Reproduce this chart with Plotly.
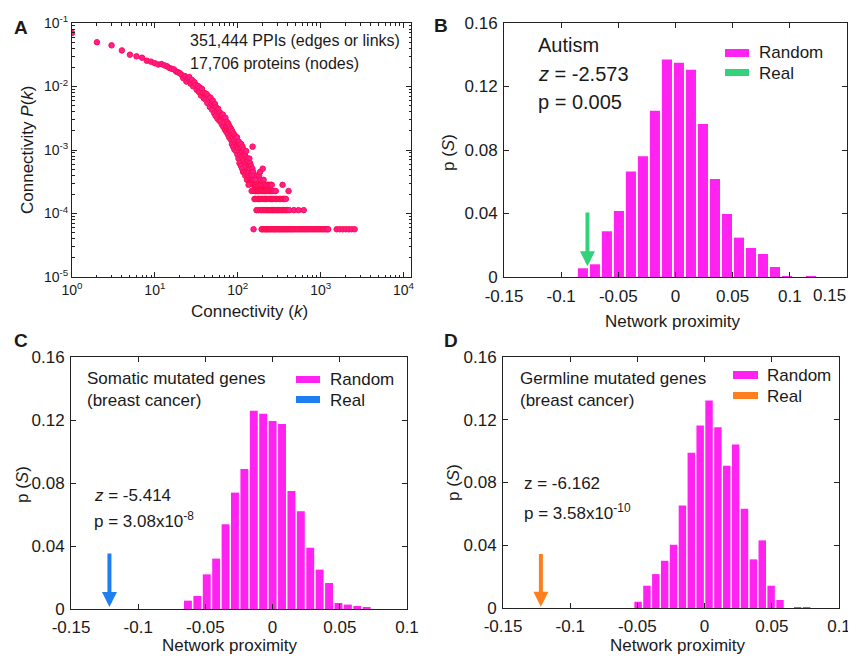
import plotly.graph_objects as go

# The page places the plot 8 px from the top-left corner (default body margin),
# so the figure is 8 px smaller and all reference pixel positions are shifted by 8.
VW, VH = 856, 656
OFF = 8
FW, FH = VW - OFF, VH - OFF
FONT = "Liberation Sans, Arial, Helvetica, sans-serif"
TXT = "#1a1a1a"
AXC = "#222222"
MAGENTA = "#ff22f0"

# ---------------- Panel A data (degree k, number of proteins with degree k) ----------------
N_PROTEINS = 17706
core_degree = list(range(1, 161))
core_count = [
    1234, 880, 788, 655, 561, 528, 503, 451, 436, 411,
    393, 400, 381, 368, 347, 336, 329, 305, 297, 287,
    270, 240, 258, 212, 236, 249, 196, 224, 178, 207,
    189, 157, 181, 145, 170, 128, 162, 141, 115, 139,
    110, 135, 97, 124, 112, 84, 118, 95, 76, 106,
    88, 67, 94, 61, 83, 73, 55, 79, 63, 51,
    69, 50, 63, 45, 59, 64, 41, 56, 48, 37,
    57, 41, 34, 49, 40, 31, 46, 37, 28, 41,
    35, 26, 38, 30, 22, 35, 28, 20, 32, 25,
    18, 30, 23, 27, 17, 25, 20, 28, 15, 23,
    19, 13, 24, 17, 11, 21, 15, 19, 10, 22,
    14, 17, 9, 20, 13, 8, 18, 12, 16, 8,
    15, 11, 7, 14, 10, 17, 8, 13, 6, 12,
    11, 7, 12, 8, 5, 10, 7, 13, 6, 9,
    11, 6, 7, 10, 6, 8, 4, 7, 6, 9,
    20, 6, 8, 5, 1, 7, 4, 6, 3, 5,
]
tail_deg_count5 = [161, 166, 171, 176, 182, 188, 193, 199, 206, 213, 220, 228, 236, 244, 251, 257, 347]
tail_deg_count4 = [163, 169, 174, 179, 185, 191, 197, 203, 210, 217, 224, 232, 240, 248, 256, 265, 275, 287, 410]
tail_deg_count3 = [164, 172, 178, 184, 190, 196, 202, 209, 216, 223, 231, 239, 247, 255, 264, 273, 283,
                   294, 305, 317, 330, 343, 356, 368, 380]
tail_deg_count2 = [168, 177, 187, 195, 204, 212, 221, 230, 238, 246, 254, 263, 271, 280, 290, 300, 311,
                   322, 334, 346, 359, 372, 386, 400, 420, 475, 540, 625]
tail_deg_count1 = [194, 198, 207, 214, 219, 226, 234, 242, 250, 259, 268, 277, 286, 296, 307, 318, 328,
                   340, 352, 365, 378, 392, 405, 422, 436, 452, 470, 490, 512, 535, 560, 585, 610, 635,
                   660, 690, 720, 750, 785, 820, 855, 895, 935, 975, 1020, 1065, 1110, 1160, 1210, 1230,
                   1560, 1695, 1842, 2001, 2174, 2362, 2570]
extra_degree = [165, 170, 181, 186, 189, 200, 205]
extra_count = [6, 7, 7, 8, 6, 9, 6]

deg_all = list(core_degree) + list(extra_degree)
cnt_all = list(core_count) + list(extra_count)
for c, lst in [(5, tail_deg_count5), (4, tail_deg_count4), (3, tail_deg_count3),
               (2, tail_deg_count2), (1, tail_deg_count1)]:
    deg_all += lst
    cnt_all += [c] * len(lst)
pk_all = [c / N_PROTEINS for c in cnt_all]

# ---------------- Panels B-D: histograms of random network proximity ----------------
autism_bins = [-0.081, -0.0705, -0.060, -0.0495, -0.039, -0.0285, -0.018, -0.0075, 0.003, 0.0135,
               0.024, 0.0345, 0.045, 0.0555, 0.066, 0.0765, 0.087, 0.0975, 0.108, 0.1185]
autism_p = [0.0055, 0.008, 0.0288, 0.0416, 0.0664, 0.076, 0.1048, 0.137, 0.135, 0.1306,
            0.0964, 0.0617, 0.0397, 0.0248, 0.0183, 0.0145, 0.0063, 0.0004, 0.0, 0.0005]
autism_real = -0.077

somatic_bins = [-0.063, -0.056, -0.049, -0.042, -0.035, -0.028, -0.021, -0.014, -0.007, 0.0,
                0.007, 0.014, 0.021, 0.028, 0.035, 0.042, 0.049, 0.056, 0.063, 0.070]
somatic_p = [0.0053, 0.0083, 0.022, 0.032, 0.0538, 0.0739, 0.0889, 0.1259, 0.124, 0.1194,
             0.1175, 0.0749, 0.062, 0.0389, 0.025, 0.0165, 0.0038, 0.0028, 0.0019, 0.001]
somatic_real = -0.1214

germline_bins = [-0.0495, -0.0429, -0.0363, -0.0297, -0.0231, -0.0165, -0.0099, -0.0033, 0.0033, 0.0099,
                 0.0165, 0.0231, 0.0297, 0.0363, 0.0429, 0.0495, 0.0561, 0.0627, 0.0693, 0.0759]
germline_p = [0.004, 0.0142, 0.0216, 0.0301, 0.0403, 0.0654, 0.0989, 0.1163, 0.1322, 0.1152,
              0.0906, 0.1042, 0.0632, 0.031, 0.0431, 0.0142, 0.0051, 0.0, 0.0005, 0.0005]
germline_real = -0.1218

prox_ticks = [-0.15, -0.1, -0.05, 0, 0.05, 0.1]
prox_ticktext = ["-0.15", "-0.1", "-0.05", "0", "0.05", "0.1"]
ps_ticks = [0, 0.04, 0.08, 0.12, 0.16]
ps_ticktext = ["0", "0.04", "0.08", "0.12", "0.16"]

# ---------------- figure ----------------
fig = go.Figure()

fig.add_trace(go.Scatter(
    x=deg_all, y=pk_all, mode="markers", xaxis="x", yaxis="y",
    marker=dict(size=5.5, color="#ff1f90", line=dict(color="#ff0d4d", width=1)),
    showlegend=False))

for xa, ya, bins, vals in [("x2", "y2", autism_bins, autism_p),
                           ("x3", "y3", somatic_bins, somatic_p),
                           ("x4", "y4", germline_bins, germline_p)]:
    fig.add_trace(go.Bar(x=bins, y=vals, xaxis=xa, yaxis=ya, marker=dict(color=MAGENTA, line=dict(width=0)),
                         showlegend=False))


def px2paper(px, py):
    return (px - OFF) / FW, 1 - (py - OFF) / FH


def dom_x(a, b):
    return [(a - OFF) / FW, (b - OFF) / FW]


def dom_y(top, bottom):
    return [1 - (bottom - OFF) / FH, 1 - (top - OFF) / FH]


def common_axis(**kw):
    d = dict(showline=True, linecolor=AXC, linewidth=1, mirror="ticks", ticks="inside",
             ticklen=5, tickcolor=AXC, showgrid=False, zeroline=False, automargin=False,
             tickfont=dict(family=FONT, size=17, color=TXT))
    d.update(kw)
    return d


minor_log_x = [m * 10 ** e for e in range(0, 4) for m in range(2, 10)]
minor_log_y = [m * 10.0 ** e for e in range(-5, -1) for m in range(2, 10)]

layout = dict(
    width=FW, height=FH, margin=dict(l=0, r=0, t=0, b=0, autoexpand=False),
    paper_bgcolor="white", plot_bgcolor="white", bargap=0.16,
    xaxis=common_axis(domain=dom_x(72, 411), anchor="y", type="log", range=[0, 4.09],
                      tickvals=[1, 10, 100, 1000, 10000],
                      ticktext=["10<sup>0</sup>", "10<sup>1</sup>", "10<sup>2</sup>", "10<sup>3</sup>", "10<sup>4</sup>"],
                      tickfont=dict(family=FONT, size=14, color=TXT),
                      minor=dict(tickvals=minor_log_x, ticks="inside", ticklen=2.5, tickcolor=AXC, showgrid=False)),
    yaxis=common_axis(domain=dom_y(23, 277), anchor="x", type="log", range=[-5, -1],
                      tickvals=[1e-5, 1e-4, 1e-3, 1e-2, 1e-1],
                      ticktext=["10<sup>-5</sup>", "10<sup>-4</sup>", "10<sup>-3</sup>", "10<sup>-2</sup>", "10<sup>-1</sup>"],
                      tickfont=dict(family=FONT, size=14, color=TXT),
                      minor=dict(tickvals=minor_log_y, ticks="inside", ticklen=2.5, tickcolor=AXC, showgrid=False)),
    xaxis2=common_axis(domain=dom_x(504, 847), anchor="y2", range=[-0.15, 0.15],
                       tickvals=prox_ticks, ticktext=prox_ticktext, ticklabelstandoff=4),
    yaxis2=common_axis(domain=dom_y(23, 277), anchor="x2", range=[0, 0.16],
                       tickvals=ps_ticks, ticktext=ps_ticktext, ticklabelstandoff=2),
    xaxis3=common_axis(domain=dom_x(71, 407), anchor="y3", range=[-0.15, 0.1],
                       tickvals=prox_ticks, ticktext=prox_ticktext, ticklabelstandoff=3),
    yaxis3=common_axis(domain=dom_y(357, 609), anchor="x3", range=[0, 0.16],
                       tickvals=ps_ticks, ticktext=ps_ticktext, ticklabelstandoff=2),
    xaxis4=common_axis(domain=dom_x(503, 839), anchor="y4", range=[-0.15, 0.1],
                       tickvals=prox_ticks, ticktext=prox_ticktext, ticklabelstandoff=3),
    yaxis4=common_axis(domain=dom_y(357, 608), anchor="x4", range=[0, 0.16],
                       tickvals=ps_ticks, ticktext=ps_ticktext, ticklabelstandoff=2),
)
fig.update_layout(**layout)

annotations = []


def ann(text, px, py, size, xanchor="left", angle=0):
    x, y = px2paper(px, py)
    annotations.append(dict(text=text, x=x, y=y, xref="paper", yref="paper", xanchor=xanchor,
                            yanchor="middle", showarrow=False, textangle=angle,
                            font=dict(family=FONT, size=size, color=TXT)))


# panel letters
for letter, px, py in [("A", 21, 27), ("B", 441, 25), ("C", 21, 340), ("D", 451, 340)]:
    ann("<b>%s</b>" % letter, px, py, 19, xanchor="center")

# panel A
ann("351,444 PPIs (edges or links)", 188, 40, 16)
ann("17,706 proteins (nodes)", 188, 63, 16)
ann("Connectivity (<i>k</i>)", 249, 311, 17, xanchor="center")
ann("Connectivity <i>P</i>(<i>k</i>)", 28, 150, 17, xanchor="center", angle=-90)

# panel B
ann("Autism", 536, 45, 20)
ann("<i>z</i> = -2.573", 536, 74, 20)
ann("p = 0.005", 536, 102, 20)
ann("Random", 757, 53, 17)
ann("Real", 757, 73, 17)
ann("Network proximity", 673, 322, 17, xanchor="center")
ann("p (<i>S</i>)", 448, 153, 17, xanchor="center", angle=-90)
ann("0.15", 848, 295, 17, xanchor="right")

# panel C
ann("Somatic mutated genes", 85, 378, 17)
ann("(breast cancer)", 85, 400, 17)
ann("<i>z</i> = -5.414", 92, 495, 17)
ann("p = 3.08x10<sup>-8</sup>", 92, 520, 17)
ann("Random", 328, 379, 17)
ann("Real", 328, 400, 17)
ann("Network proximity", 230, 645, 17, xanchor="center")
ann("p (<i>S</i>)", 22, 485, 17, xanchor="center", angle=-90)

# panel D
ann("Germline mutated genes", 518, 378, 17)
ann("(breast cancer)", 518, 400, 17)
ann("z = -6.162", 522, 483, 17)
ann("p = 3.58x10<sup>-10</sup>", 522, 512, 17)
ann("Random", 765, 375, 17)
ann("Real", 765, 396, 17)
ann("Network proximity", 678, 645, 17, xanchor="center")
ann("p (<i>S</i>)", 453, 483, 17, xanchor="center", angle=-90)

# arrows marking the real proximity
for xa, ya, xr, top, tip, col in [("x2", "y2", autism_real, 0.0416, 0.0067, "#33d17a"),
                                  ("x3", "y3", somatic_real, 0.0362, 0.0013, "#1f7ff0"),
                                  ("x4", "y4", germline_real, 0.0354, 0.0008, "#ff7f1e")]:
    annotations.append(dict(x=xr, y=tip, xref=xa, yref=ya, ax=xr, ay=top, axref=xa, ayref=ya,
                            text="", showarrow=True, arrowhead=2, arrowsize=0.75, arrowwidth=4,
                            arrowcolor=col))

fig.update_layout(annotations=annotations)

# legend swatches
shapes = []
for x0, x1, y0, y1, col in [(725, 749, 49, 57, MAGENTA), (725, 749, 69, 76, "#33d17a"),
                            (296, 320, 376, 383, MAGENTA), (296, 320, 396, 403, "#1f7ff0"),
                            (733, 758, 371, 379, MAGENTA), (733, 758, 392, 399, "#ff7f1e")]:
    px0, py0 = px2paper(x0, y1)
    px1, py1 = px2paper(x1, y0)
    shapes.append(dict(type="rect", xref="paper", yref="paper", x0=px0, x1=px1,
                       y0=py0, y1=py1, fillcolor=col, line=dict(width=0)))
fig.update_layout(shapes=shapes)

fig.write_html("out.html")
